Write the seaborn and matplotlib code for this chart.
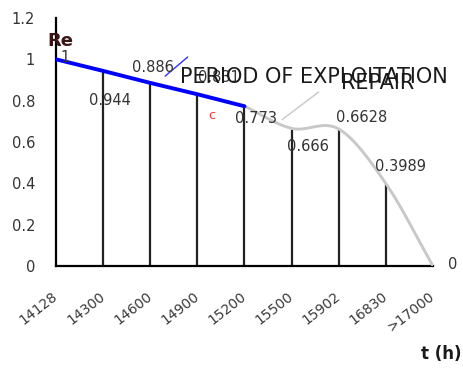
import numpy as np
import pandas as pd
import matplotlib
matplotlib.use("Agg")
import matplotlib.pyplot as plt
import seaborn as sns

# data
times = ["14128", "14300", "14600", "14900", "15200", "15500", "15902", "16830", ">17000"]
re_values = [1, 0.944, 0.886, 0.831, 0.773, 0.666, 0.6628, 0.3989, 0]
value_labels = ["1", "0.944", "0.886", "0.831", "0.773", "0.666", "0.6628", "0.3989", "0"]
# where each value label sits (data coords)
label_x = [0.19, 1.15, 2.06, 3.46, 4.24, 5.35, 6.49, 7.32, 8.41]
label_y = [1.01, 0.80, 0.96, 0.91, 0.716, 0.58, 0.72, 0.48, 0.005]
exploit_end = 4  # index of 15200, end of exploitation segment

sns.set_style("white")
plt.rcParams['font.family'] = ['DejaVu Sans']

df = pd.DataFrame({"pos": np.arange(len(times)), "re": re_values})


def smooth(xs, ys, n=30):
    # catmull-rom like excel "smoothed line"
    xs = np.asarray(xs, float)
    ys = np.asarray(ys, float)
    px = np.concatenate([[2 * xs[0] - xs[1]], xs, [2 * xs[-1] - xs[-2]]])
    py = np.concatenate([[2 * ys[0] - ys[1]], ys, [2 * ys[-1] - ys[-2]]])
    outx, outy = [], []
    for i in range(1, len(px) - 2):
        t = np.linspace(0, 1, n)
        for p, out in ((px, outx), (py, outy)):
            p0, p1, p2, p3 = p[i - 1], p[i], p[i + 1], p[i + 2]
            out.extend(0.5 * ((2 * p1) + (-p0 + p2) * t +
                              (2 * p0 - 5 * p1 + 4 * p2 - p3) * t ** 2 +
                              (-p0 + 3 * p1 - 3 * p2 + p3) * t ** 3))
    return pd.DataFrame({"pos": outx, "re": outy})


fig = plt.figure(figsize=(4.64, 3.76), dpi=100)
ax = fig.add_axes([56 / 464, 110 / 376, (433 - 56) / 464, (266 - 18) / 376])

# stems
ax.vlines(df.pos[1:-1], 0, df.re[1:-1], color="#222222", lw=1.6, zorder=2)

rep = smooth(df.pos[exploit_end:], df.re[exploit_end:])
sns.lineplot(data=rep, x="pos", y="re", ax=ax, color="#c8c8c8", lw=2.1,
             sort=False, estimator=None, zorder=3)
sns.lineplot(data=df[:exploit_end + 1], x="pos", y="re", ax=ax, color="#0000ff",
             lw=2.8, estimator=None, zorder=4)

for x, y, s in zip(label_x, label_y, value_labels):
    ax.text(x, y, s, ha="center", va="center", fontsize=10.5, color="#333333", zorder=5)

# leader lines and annotations
ax.annotate("", xy=(2.27, 0.91), xytext=(2.84, 1.02),
            arrowprops=dict(arrowstyle="-", color="#3333ff", lw=1))
ax.annotate("", xy=(4.75, 0.70), xytext=(5.62, 0.85),
            arrowprops=dict(arrowstyle="-", color="#c8c8c8", lw=1))
ax.text(3.31, 0.726, "c", color="#ff3030", fontsize=9, ha="center", va="center")
ax.text(5.47, 0.914, "PERIOD OF EXPLOITATION", fontsize=15, color="#1a1a1a",
        ha="center", va="center", zorder=6)
ax.text(6.83, 0.885, "REPAIR", fontsize=15, color="#1a1a1a", ha="center", va="center",
        zorder=6)
ax.text(0.1, 1.09, "Re", fontsize=13, fontweight="bold", color="#3a1515",
        ha="center", va="center")
fig.text(0.952, 0.059, "t (h)", fontsize=12, fontweight="bold", color="#1a1a1a",
         ha="center", va="center")

ax.set_xlim(0, len(times) - 1)
ax.set_ylim(0, 1.2)
ax.set_xticks(df.pos)
ax.set_xticklabels(times, rotation=38, ha="right", va="center", rotation_mode="anchor",
                   fontsize=10, color="#3a3a3a")
ax.set_yticks(np.arange(0, 1.21, 0.2))
ax.set_yticklabels(["0", "0.2", "0.4", "0.6", "0.8", "1", "1.2"], fontsize=10.5,
                   color="#333333")
ax.tick_params(axis="y", direction="inout", length=6, width=1.3, pad=12, color="black")
ax.tick_params(axis="x", direction="inout", length=5, width=1.3, pad=18, color="black")
ax.set_xlabel("")
ax.set_ylabel("")
sns.despine(ax=ax)
for sp in ("left", "bottom"):
    ax.spines[sp].set_color("black")
    ax.spines[sp].set_linewidth(1.6)
ax.grid(False)

fig.savefig("out.png", dpi=100)
